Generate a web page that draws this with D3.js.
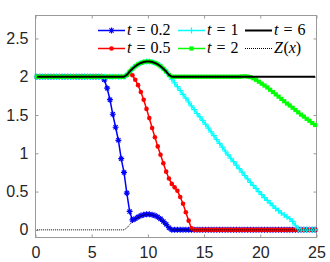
<!DOCTYPE html>
<html><head><meta charset="utf-8">
<script src="https://cdn.jsdelivr.net/npm/d3@7"></script>
<style>html,body{margin:0;padding:0;background:#fff;} svg{display:block}</style>
</head><body><svg id="c" width="330" height="262"></svg>
<script>
// ---------- data ----------
const xValues = [
0.125,0.375,0.625,0.875,1.125,1.375,1.625,1.875,2.125,2.375,
2.625,2.875,3.125,3.375,3.625,3.875,4.125,4.375,4.625,4.875,
5.125,5.375,5.625,5.875,6.125,6.375,6.625,6.875,7.125,7.375,
7.625,7.875,8.125,8.375,8.625,8.875,9.125,9.375,9.625,9.875,
10.125,10.375,10.625,10.875,11.125,11.375,11.625,11.875,12.125,12.375,
12.625,12.875,13.125,13.375,13.625,13.875,14.125,14.375,14.625,14.875,
15.125,15.375,15.625,15.875,16.125,16.375,16.625,16.875,17.125,17.375,
17.625,17.875,18.125,18.375,18.625,18.875,19.125,19.375,19.625,19.875,
20.125,20.375,20.625,20.875,21.125,21.375,21.625,21.875,22.125,22.375,
22.625,22.875,23.125,23.375,23.625,23.875,24.125,24.375,24.625,24.875];

const zValues = [
0,0,0,0,0,0,0,0,0,0,
0,0,0,0,0,0,0,0,0,0,
0,0,0,0,0,0,0,0,0,0,
0,0,0.024,0.068,0.105,0.137,0.162,0.180,0.193,0.199,
0.199,0.193,0.180,0.162,0.137,0.105,0.068,0.024,0,0,
0,0,0,0,0,0,0,0,0,0,
0,0,0,0,0,0,0,0,0,0,
0,0,0,0,0,0,0,0,0,0,
0,0,0,0,0,0,0,0,0,0,
0,0,0,0,0,0,0,0,0,0];

const t02Values = [
2,2,2,2,2,2,2,2,2,2,
2,2,2,2,2,2,2,2,2,2,
2,2,2,2,1.96,1.85,1.70,1.51,1.34,1.17,
0.93,0.75,0.48,0.24,0.13,0.145,0.168,0.186,0.198,0.204,
0.204,0.198,0.186,0.168,0.143,0.11,0.072,0.028,0,0,
0,0,0,0,0,0,0,0,0,0,
0,0,0,0,0,0,0,0,0,0,
0,0,0,0,0,0,0,0,0,0,
0,0,0,0,0,0,0,0,0,0,
0,0,0,0,0,0,0,0,0,0];

const t05Values = [
2,2,2,2,2,2,2,2,2,2,
2,2,2,2,2,2,2,2,2,2,
2,2,2,2,2,2,2,2,2,2,
2,2,2.02,2.05,2.02,1.96,1.89,1.80,1.70,1.58,
1.46,1.33,1.21,1.09,0.98,0.87,0.76,0.67,0.60,0.555,
0.51,0.43,0.34,0.23,0.12,0.02,0,0,0,0,
0,0,0,0,0,0,0,0,0,0,
0,0,0,0,0,0,0,0,0,0,
0,0,0,0,0,0,0,0,0,0,
0,0,0,0,0,0,0,0,0,0];

const t1Values = [
2,2,2,2,2,2,2,2,2,2,
2,2,2,2,2,2,2,2,2,2,
2,2,2,2,2,2,2,2,2,2,
2,2,2.024,2.068,2.105,2.137,2.162,2.180,2.193,2.199,
2.199,2.193,2.180,2.162,2.137,2.105,2.068,2.024,1.97,1.92,
1.87,1.82,1.77,1.72,1.67,1.62,1.57,1.52,1.475,1.43,
1.38,1.33,1.28,1.23,1.18,1.13,1.08,1.03,0.98,0.935,
0.89,0.845,0.80,0.755,0.71,0.665,0.62,0.58,0.54,0.50,
0.46,0.42,0.385,0.35,0.315,0.28,0.25,0.22,0.195,0.17,
0.145,0.11,0.06,0.01,0,0,0,0,0,0];

const t2Values = [
2,2,2,2,2,2,2,2,2,2,
2,2,2,2,2,2,2,2,2,2,
2,2,2,2,2,2,2,2,2,2,
2,2,2.024,2.068,2.105,2.137,2.162,2.180,2.193,2.199,
2.199,2.193,2.180,2.162,2.137,2.105,2.068,2.024,2,2,
2,2,2,2,2,2,2,2,2,2,
2,2,2,2,2,2,2,2,2,2,
2,2,2,2.003,2.006,2.002,1.995,1.98,1.96,1.935,
1.91,1.885,1.86,1.83,1.80,1.77,1.74,1.71,1.68,1.65,
1.625,1.595,1.565,1.535,1.505,1.48,1.45,1.425,1.395,1.37];

const t6Values = [
2,2,2,2,2,2,2,2,2,2,
2,2,2,2,2,2,2,2,2,2,
2,2,2,2,2,2,2,2,2,2,
2,2,2.024,2.068,2.105,2.137,2.162,2.180,2.193,2.199,
2.199,2.193,2.180,2.162,2.137,2.105,2.068,2.024,2,2,
2,2,2,2,2,2,2,2,2,2,
2,2,2,2,2,2,2,2,2,2,
2,2,2,2,2,2,2,2,2,2,
2,2,2,2,2,2,2,2,2,2,
2,2,2,2,2,2,2,2,2,2];

const xTicks = [0,5,10,15,20,25];
const yTicks = [0,0.5,1,1.5,2,2.5];
const legendLabels = ["t = 0.2","t = 0.5","t = 1","t = 2","t = 6","Z(x)"];

// ---------- styles ----------
const series = [
  {name:legendLabels[0], values:t02Values, color:"#0000ff", marker:"asterisk", lw:1.5, col:0,row:0},
  {name:legendLabels[1], values:t05Values, color:"#ff0000", marker:"dot", lw:1.5, col:0,row:1},
  {name:legendLabels[2], values:t1Values,  color:"#00ffff", marker:"plus", lw:1.5, col:1,row:0},
  {name:legendLabels[3], values:t2Values,  color:"#00ff00", marker:"square", lw:1.5, col:1,row:1},
  {name:legendLabels[4], values:t6Values,  color:"#000000", marker:null, lw:2, col:2,row:0},
  {name:legendLabels[5], values:zValues,   color:"#000000", marker:null, lw:1, dash:"1,1", col:2,row:1}
];

const svg = d3.select('#c');
const L=35.5, R=316.5, T=15.5, B=237.5;
const x = d3.scaleLinear().domain([0,25]).range([35.5,316.5]);
const y = d3.scaleLinear().domain([-0.1,2.8]).range([B,T]);
const axisColor = "#9a9a9a";
const tickFont = "'Liberation Sans', Arial, sans-serif";

function styleAxis(g){
  g.select('.domain').remove();
  g.selectAll('.tick line').attr('stroke',axisColor);
  g.selectAll('.tick text').attr('fill','#262626').attr('font-family',tickFont).attr('font-size',16);
}
svg.append('g').attr('transform',`translate(0,${B})`)
  .call(d3.axisBottom(x).tickValues(xTicks).tickSizeInner(-3).tickSizeOuter(0).tickPadding(9.5).tickFormat(d3.format('d'))).call(styleAxis);
svg.append('g').attr('transform',`translate(${L},0)`)
  .call(d3.axisLeft(y).tickValues(yTicks).tickSizeInner(-3).tickSizeOuter(0).tickPadding(7).tickFormat(d=>String(d))).call(styleAxis);
svg.append('g').attr('transform',`translate(0,${T})`)
  .call(d3.axisTop(x).tickValues(xTicks).tickSizeInner(-3).tickSizeOuter(0).tickFormat('')).call(styleAxis);
svg.append('g').attr('transform',`translate(${R},0)`)
  .call(d3.axisRight(y).tickValues(yTicks).tickSizeInner(-3).tickSizeOuter(0).tickFormat('')).call(styleAxis);

svg.append('rect').attr('x',L).attr('y',T).attr('width',R-L).attr('height',B-T)
  .attr('fill','none').attr('stroke',axisColor).attr('stroke-width',1);

function markerPath(type,r){
  if(type==='asterisk'){const a=0.7*r;return `M${-r},0H${r}M0,${-r}V${r}M${-a},${-a}L${a},${a}M${-a},${a}L${a},${-a}`;}
  if(type==='plus') return `M${-r},0H${r}M0,${-r}V${r}`;
  return '';
}
function drawMarker(g,type,color,cx,cy){
  if(!type) return;
  if(type==='dot') g.append('circle').attr('cx',cx).attr('cy',cy).attr('r',2.3).attr('fill',color);
  else if(type==='square') g.append('rect').attr('x',cx-2.1).attr('y',cy-2.1).attr('width',4.2).attr('height',4.2).attr('fill',color);
  else g.append('path').attr('d',markerPath(type,3)).attr('transform',`translate(${cx},${cy})`).attr('stroke',color).attr('stroke-width',1.2).attr('fill','none');
}

const line = d3.line().x((d,i)=>x(xValues[i])).y(d=>y(d));
const plot = svg.append('g');
series.forEach(s=>{
  const g = plot.append('g');
  g.append('path').attr('d',line(s.values)).attr('fill','none').attr('stroke',s.color)
   .attr('stroke-width',s.lw).attr('stroke-dasharray',s.dash||null).attr('stroke-linejoin','round');
  if(s.marker) s.values.forEach((v,i)=>drawMarker(g,s.marker,s.color,x(xValues[i]),y(v)));
});

// ---------- legend ----------
const legCols=[98,178,245], legRows=[30.5,48.5], sampleW=27;
const leg = svg.append('g');
function renderLabel(t,label){
  const tokens = label.split(' ');
  tokens.forEach((tok,ti)=>{
    [...tok].forEach((ch,ci)=>{
      const ts=t.append('tspan').text(ch);
      if(/[A-Za-z]/.test(ch)) ts.attr('font-style','italic');
      if(ci===0 && ti>0) ts.attr('dx',5);
      if(ch==='(' ) ts.attr('dx',0.5);
    });
  });
}
series.forEach(s=>{
  const x0=legCols[s.col], yy=legRows[s.row];
  const g=leg.append('g');
  g.append('line').attr('x1',x0).attr('x2',x0+sampleW).attr('y1',yy).attr('y2',yy)
   .attr('stroke',s.color).attr('stroke-width',s.lw).attr('stroke-dasharray',s.dash||null);
  drawMarker(g,s.marker,s.color,x0+sampleW/2,yy);
  const t=g.append('text').attr('x',x0+sampleW+2).attr('y',yy+4.8)
    .attr('font-family',"'Liberation Serif','DejaVu Serif',serif").attr('font-size',16).attr('fill','#000');
  renderLabel(t,s.name);
});
</script></body></html>
